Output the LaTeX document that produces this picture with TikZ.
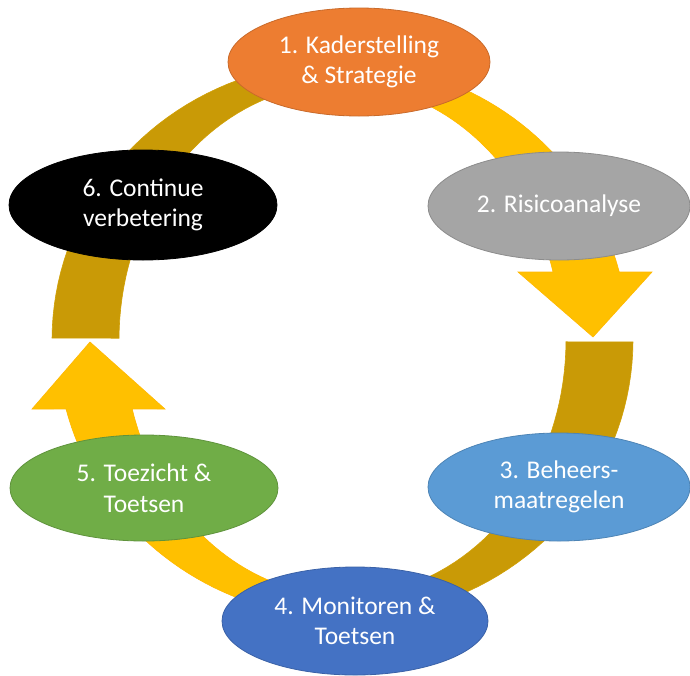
\documentclass[tikz,border=0pt]{standalone}
\usepackage{fontspec}
\setmainfont{Carlito}
\usetikzlibrary{shapes.geometric}
\definecolor{darkgold}{HTML}{C99A06}
\definecolor{gold}{HTML}{FFC000}
\definecolor{cOrange}{HTML}{ED7D31}
\definecolor{cGray}{HTML}{A5A5A5}
\definecolor{cLightBlue}{HTML}{5B9BD5}
\definecolor{cBlue}{HTML}{4472C4}
\definecolor{cGreen}{HTML}{70AD47}
\begin{document}
\begin{tikzpicture}[x=1pt,y=-1pt,
  stage/.style={ellipse, inner sep=0pt, minimum width=262pt, minimum height=108pt,
    text=white, align=center, font=\fontsize{25.5}{30.5}\selectfont, line width=0.8pt},
  darkband/.style={fill=darkgold, draw=darkgold!85!gold, line width=0.6pt},
  lightband/.style={fill=gold, draw=gold!88!orange, line width=0.6pt}]
\useasboundingbox (0,0) rectangle (690,675);
\fill[white] (0,0) rectangle (690,675);

% Arrow B: left -> top -> right (arrowhead down)
\path[darkband] plot[domain=180.4:270, samples=40] ({340+288*cos(\x)},{340+278*sin(\x)})
  -- plot[domain=270:180.4, samples=40] ({340+221*cos(\x)},{340+256*sin(\x)}) -- cycle;
\path[lightband] plot[domain=270:345.84, samples=40] ({340+288*cos(\x)},{340+278*sin(\x)})
  -- (652,272) -- (593,337) -- (518,272)
  -- plot[domain=344.6:270, samples=40] ({340+221*cos(\x)},{340+256*sin(\x)}) -- cycle;

% Arrow A: right -> bottom -> left (arrowhead up)
\path[darkband] plot[domain=0.4:90, samples=40] ({345+288*cos(\x)},{340+278*sin(\x)})
  -- plot[domain=90:0.4, samples=40] ({345+221*cos(\x)},{340+256*sin(\x)}) -- cycle;
\path[lightband] plot[domain=90:165.63, samples=40] ({345+288*cos(\x)},{340+278*sin(\x)})
  -- (32,409) -- (90,342) -- (165,409)
  -- plot[domain=164.37:90, samples=40] ({345+221*cos(\x)},{340+256*sin(\x)}) -- cycle;

% Stages
\node[stage, fill=cOrange, draw=cOrange!85!black] (n1) at (359,62) {1. Kaderstelling\\\& Strategie};
\node[stage, fill=cGray, draw=cGray!85!black] (n2) at (559,206) {2. Risicoanalyse};
\node[stage, fill=cLightBlue, draw=cLightBlue!85!black] (n3) at (559,487) {3. Beheers-\\maatregelen};
\node[stage, fill=cBlue, draw=cBlue!85!black, minimum width=266pt] (n4) at (355,621) {4. Monitoren \&\\Toetsen};
\node[stage, fill=cGreen, draw=cGreen!85!black, minimum width=268pt, minimum height=106pt] (n5) at (144,488) {5. Toezicht \&\\Toetsen};
\node[stage, fill=black, draw=black, minimum width=268pt, minimum height=110pt] (n6) at (143,205) {6. Continue\\verbetering};
\end{tikzpicture}
\end{document}
